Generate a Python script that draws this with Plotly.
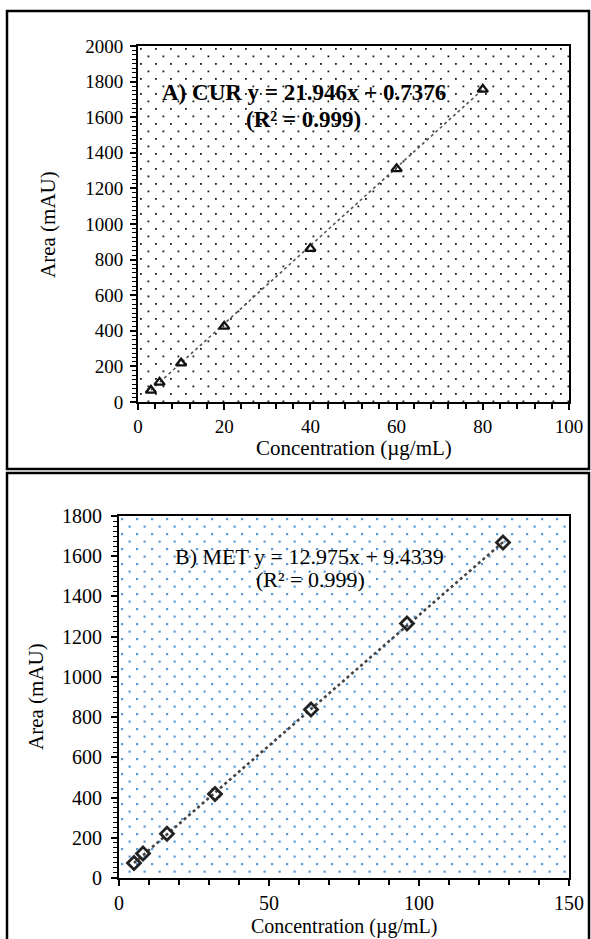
import base64
import plotly.graph_objects as go

# ---------------- data ----------------
cur_conc = [3, 5, 10, 20, 40, 60, 80]
cur_area = [65, 110, 218, 425, 862, 1310, 1756]
cur_slope = 21.946
cur_intercept = 0.7376

met_conc = [5, 8, 16, 32, 64, 96, 128]
met_area = [75, 122, 220, 418, 838, 1265, 1668]
met_slope = 12.975
met_intercept = 9.4339

cur_eq = "<b>A) CUR y = 21.946x + 0.7376</b>"
cur_r2 = "<b>(R² = 0.999)</b>"
met_eq = "B) MET y = 12.975x + 9.4339"
met_r2 = "(R² = 0.999)"
x_title = "Concentration (µg/mL)"
y_title = "Area (mAU)"

# ---------------- geometry (pixels) ----------------
W, H = 591, 939
FONT = "Liberation Serif, Times New Roman, serif"


def px_x(p):
    return p / W


def px_y(p):
    return 1 - p / H


def dot_image(w, h, color, s):
    svg = (
        f'<svg xmlns="http://www.w3.org/2000/svg" width="{w}" height="{h}" '
        f'viewBox="0 0 {w} {h}" preserveAspectRatio="none">'
        '<defs><pattern id="p" width="15" height="15" patternUnits="userSpaceOnUse">'
        f'<rect x="2" y="2" width="{s}" height="{s}" fill="{color}"/>'
        f'<rect x="9.5" y="9.5" width="{s}" height="{s}" fill="{color}"/>'
        '</pattern></defs>'
        f'<rect width="{w}" height="{h}" fill="url(#p)"/></svg>'
    )
    return "data:image/svg+xml;base64," + base64.b64encode(svg.encode()).decode()


top_box = dict(l=138, r=569, t=46, b=402)
bot_box = dict(l=119, r=569, t=516, b=878)

fig = go.Figure()

# ---- top: CUR ----
fig.add_trace(go.Scatter(
    x=[min(cur_conc), max(cur_conc)],
    y=[cur_slope * min(cur_conc) + cur_intercept, cur_slope * max(cur_conc) + cur_intercept],
    mode="lines", line=dict(color="#555555", width=1.6, dash="dot"),
    xaxis="x", yaxis="y", showlegend=False, hoverinfo="skip"))
fig.add_trace(go.Scatter(
    x=cur_conc, y=cur_area, mode="markers",
    marker=dict(symbol="triangle-up-open", size=9, color="#111111", line=dict(width=2.3, color="#111111")),
    xaxis="x", yaxis="y", showlegend=False))

# ---- bottom: MET ----
fig.add_trace(go.Scatter(
    x=[min(met_conc), max(met_conc)],
    y=[met_slope * min(met_conc) + met_intercept, met_slope * max(met_conc) + met_intercept],
    mode="lines", line=dict(color="#444444", width=2.6, dash="dot"),
    xaxis="x2", yaxis="y2", showlegend=False, hoverinfo="skip"))
fig.add_trace(go.Scatter(
    x=met_conc, y=met_area, mode="markers",
    marker=dict(symbol="diamond-open", size=10, color="#222222", line=dict(width=2.8, color="#222222")),
    xaxis="x2", yaxis="y2", showlegend=False))

axis_common = dict(
    showline=True, linecolor="black", linewidth=2, mirror=True,
    showgrid=False, zeroline=False, ticks="outside", ticklen=6, tickwidth=1.5,
    tickcolor="black", automargin=False,
)

fig.update_layout(
    width=W, height=H,
    margin=dict(l=0, r=0, t=0, b=0),
    paper_bgcolor="white", plot_bgcolor="rgba(0,0,0,0)",
    font=dict(family=FONT, color="black"),
    xaxis=dict(domain=[px_x(top_box["l"]), px_x(top_box["r"])], anchor="y",
               range=[0, 100], dtick=20, tickfont=dict(size=19, family=FONT),
               minor=dict(dtick=4, ticks="outside", ticklen=5, tickwidth=1.5, tickcolor="black"),
               **axis_common),
    yaxis=dict(domain=[px_y(top_box["b"]), px_y(top_box["t"])], anchor="x",
               range=[0, 2000], dtick=200, tickfont=dict(size=19, family=FONT),
               ticklabelstandoff=3,
               minor=dict(dtick=25, ticks="outside", ticklen=4, tickwidth=1.2, tickcolor="black"),
               **axis_common),
    xaxis2=dict(domain=[px_x(bot_box["l"]), px_x(bot_box["r"])], anchor="y2",
                range=[0, 150], dtick=50, tickfont=dict(size=20, family=FONT),
                minor=dict(dtick=10, ticks="outside", ticklen=5, tickwidth=1.5, tickcolor="black"),
                **axis_common),
    yaxis2=dict(domain=[px_y(bot_box["b"]), px_y(bot_box["t"])], anchor="x2",
                range=[0, 1800], dtick=200, tickfont=dict(size=20, family=FONT),
                ticklabelstandoff=5,
                minor=dict(dtick=25, ticks="outside", ticklen=4, tickwidth=1.2, tickcolor="black"),
                **axis_common),
)

# dotted plot-area textures
fig.add_layout_image(dict(
    source=dot_image(top_box["r"] - top_box["l"], top_box["b"] - top_box["t"], "#1a1a1a", 1.8),
    xref="x domain", yref="y domain", x=0, y=1, sizex=1, sizey=1,
    xanchor="left", yanchor="top", sizing="stretch", layer="below"))
fig.add_layout_image(dict(
    source=dot_image(bot_box["r"] - bot_box["l"], bot_box["b"] - bot_box["t"], "#5b9bd5", 2.2),
    xref="x2 domain", yref="y2 domain", x=0, y=1, sizex=1, sizey=1,
    xanchor="left", yanchor="top", sizing="stretch", layer="below"))

# panel frames
fig.add_shape(type="rect", xref="paper", yref="paper",
              x0=px_x(7), x1=px_x(589), y0=px_y(469), y1=px_y(11),
              line=dict(color="black", width=2.5))
fig.add_shape(type="rect", xref="paper", yref="paper",
              x0=px_x(7), x1=px_x(589), y0=px_y(945), y1=px_y(473),
              line=dict(color="black", width=2.5))


def label(text, x, y, size, angle=0):
    fig.add_annotation(text=text, xref="paper", yref="paper",
                       x=px_x(x), y=px_y(y), xanchor="center", yanchor="middle",
                       textangle=angle, showarrow=False,
                       font=dict(size=size, family=FONT, color="black"))


# equations
label(cur_eq, 304, 93, 23)
label(cur_r2, 303, 119, 23)
label(met_eq, 309, 556, 22)
label(met_r2, 311, 579, 22)

# axis titles
label(x_title, 354, 448, 21)
label(y_title, 48, 224, 21, -90)
label(x_title, 344, 926, 20)
label(y_title, 36, 697, 21, -90)

fig.write_html(
    "out.html",
    config={"displayModeBar": False},
    post_script="document.body.style.margin='0';document.body.style.overflow='hidden';",
)
